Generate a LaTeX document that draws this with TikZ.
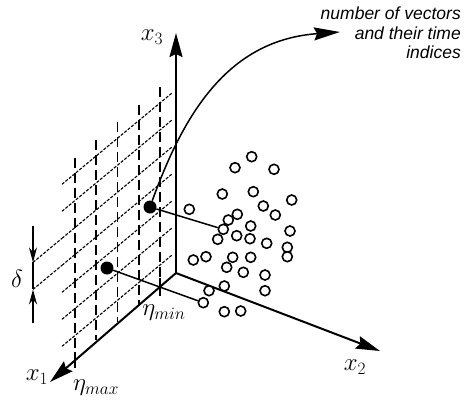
\documentclass[tikz,border=0pt]{standalone}
\usepackage{fontspec}
\newfontfamily\notefont{Liberation Sans}
\usetikzlibrary{arrows.meta}

\begin{document}
\begin{tikzpicture}[
  % one unit = one pixel of the sketch, y pointing down
  x=1pt, y=-1pt,
  % axis style
  axis/.style={line width=2pt, -{Stealth[length=24pt, width=13pt, inset=3pt]}},
  % grid styles
  gridvert/.style={line width=1.6pt, dash pattern=on 10pt off 5pt},
  gridslant/.style={line width=1.1pt, dash pattern=on 3pt off 1.5pt},
  % sample points
  sample/.style={draw, fill=white, circle, line width=1.6pt, minimum size=10pt, inner sep=0pt},
  picked/.style={fill, circle, minimum size=13pt, inner sep=0pt},
  % labels and thin connectors
  axislabel/.style={font=\fontsize{24}{28}\selectfont, inner sep=0pt},
  conn/.style={line width=1.5pt},
  dimarrow/.style={line width=1.5pt, -{Stealth[length=15pt, width=8pt]}}
]
\useasboundingbox (0,0) rectangle (466,400);

% ─── Quantisation grid in the x1-x3 plane ───────────────────────────────────
\foreach \gx in {75,96.25,117.5,138.75,160}
  \draw[gridvert] (\gx,{87+0.83*(160-\gx)}) -- (\gx,{287+0.83*(160-\gx)});
\foreach \k in {0,...,6}
  \draw[gridslant] (62,{93+27*\k+91.3}) -- (172,{93+27*\k});

% ─── Grid step delta ────────────────────────────────────────────────────────
\coordinate (dtop) at (33,262.4);
\coordinate (dbot) at (33,289.4);
\coordinate (dimtop) at (33,226);
\coordinate (dimbot) at (33,323);
\draw[gridslant] (dtop) -- (62,{147+91.3});
\draw[gridslant] (dbot) -- (62,{174+91.3});
\draw[dimarrow] (dimtop) -- (dtop);
\draw[dimarrow] (dimbot) -- (dbot);
\draw[conn] (dtop) -- (dbot);
\node[axislabel] (labdelta) at (17,279) {$\delta$};

% ─── Axes ───────────────────────────────────────────────────────────────────
\coordinate (O) at (176,273);
\coordinate (x1tip) at (50,382);
\coordinate (x2tip) at (380,351);
\coordinate (x3tip) at (176,33);
\draw[axis] (O) -- (x3tip);
\draw[axis] (O) -- (x2tip);
\draw[axis] (O) -- (x1tip);
\node[axislabel] (labx1) at (37,377) {$x_1$};
\node[axislabel] (labx2) at (355,367) {$x_2$};
\node[axislabel] (labx3) at (152,37) {$x_3$};

% eta ticks on the x1 axis
\coordinate (etamin) at (160,286.7);
\coordinate (etamax) at (75,359.5);
\draw[conn] (etamin) ++(0,-9) -- ++(0,18);
\draw[conn] (etamax) ++(0,-8) -- ++(0,16);
\node[axislabel] (labmin) at (164,313) {$\eta_{min}$};
\node[axislabel] (labmax) at (96,388) {$\eta_{max}$};

% ─── Sample vectors ─────────────────────────────────────────────────────────
\foreach \px/\py [count=\i] in {
  223.3/229.3, 203.3/302.7,
  251.7/156.7, 235/167.7, 274/169.3, 222.3/194, 253.3/191.7, 291.7/200,
  263.3/206, 189.3/209.3, 237.3/214.3, 275.3/215, 228.3/220, 250.7/226,
  290/231, 236.7/235.7, 217.7/239.3, 250/238.7, 266.7/243.3, 287.3/247.3,
  193.3/260, 206/256.7, 232.7/257.3, 250.7/257.3, 287.3/256.7, 226.7/267.3,
  243.3/272.3, 265/275, 224.3/286, 209/290.7, 265/290.7, 224.3/311.7,
  240.7/311}
  \node[sample] (s\i) at (\px,\py) {};

% picked cells and their vectors
\node[picked] (vecA) at (150,207) {};
\node[picked] (vecB) at (107,268) {};
\draw[conn] (vecA) -- (s1);
\draw[conn] (vecB) -- (s2);

% ─── Annotation ─────────────────────────────────────────────────────────────
\coordinate (notetip) at (340,32);
\draw[conn, -{Stealth[length=26pt, width=13pt, inset=3pt]}]
  (vecA) .. controls (185,110) and (230,40) .. (notetip);
\node[font=\notefont\itshape\fontsize{17.5}{19.5}\selectfont,
      align=right, anchor=east, inner sep=0pt] (note)
  at (461,33) {number of vectors\\and their time\\indices};

\end{tikzpicture}
\end{document}
